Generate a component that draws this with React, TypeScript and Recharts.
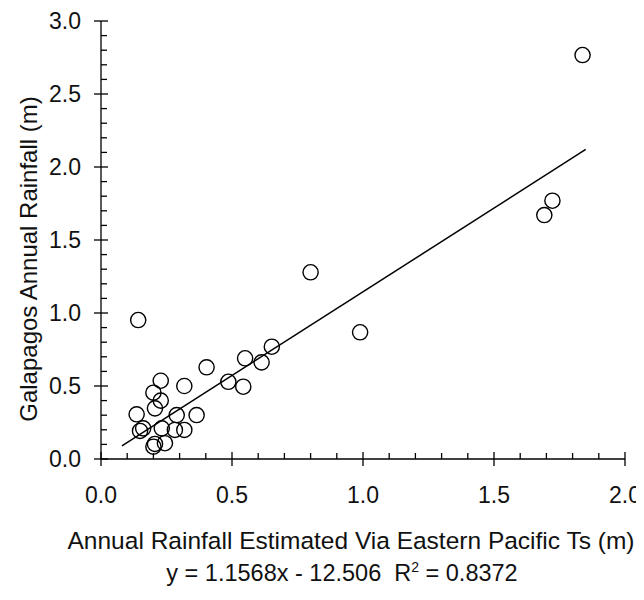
import { ScatterChart, Scatter, XAxis, YAxis, Label } from "recharts";

const FONT = '"Liberation Sans", Arial, sans-serif';

// observed (x) estimated rainfall vs. Galapagos rainfall, metres
const estRain = [
  0.142, 0.228, 0.318, 0.2, 0.228, 0.206, 0.136, 0.289, 0.365, 0.161, 0.149,
  0.232, 0.282, 0.318, 0.206, 0.244, 0.2, 0.403, 0.486, 0.543, 0.55, 0.613,
  0.652, 0.8, 0.989, 1.692, 1.723, 1.838,
];
const galRain = [
  0.952, 0.536, 0.5, 0.454, 0.4, 0.347, 0.306, 0.301, 0.301, 0.21, 0.192,
  0.21, 0.199, 0.199, 0.103, 0.108, 0.084, 0.628, 0.529, 0.495, 0.69, 0.662,
  0.769, 1.279, 0.868, 1.671, 1.769, 2.767,
];

// regression line ends as drawn
const fitX = [0.08, 1.85];
const fitY = [0.09, 2.12];

const xTicks = [
  0, 0.1, 0.2, 0.3, 0.4, 0.5, 0.6, 0.7, 0.8, 0.9, 1.0, 1.1, 1.2, 1.3, 1.4, 1.5,
  1.6, 1.7, 1.8, 1.9, 2.0,
];
const yTicks = [
  0, 0.1, 0.2, 0.3, 0.4, 0.5, 0.6, 0.7, 0.8, 0.9, 1.0, 1.1, 1.2, 1.3, 1.4, 1.5,
  1.6, 1.7, 1.8, 1.9, 2.0, 2.1, 2.2, 2.3, 2.4, 2.5, 2.6, 2.7, 2.8, 2.9, 3.0,
];

const points = estRain.map((x, i) => ({ x, y: galRain[i] }));
const fit = fitX.map((x, i) => ({ x, y: fitY[i] }));

const isMajor = (v: number) => Math.abs(v * 2 - Math.round(v * 2)) < 1e-6;

// ticks: major ones cross the axis, minor ones point inwards
const XTick = (props: any) => {
  const { x, y, payload } = props;
  const major = isMajor(payload.value);
  return (
    <g>
      <line x1={x} x2={x} y1={major ? y - 7 : y - 6} y2={major ? y + 7 : y} stroke="#000" strokeWidth={1.3} />
      {major && (
        <text x={x} y={y + 44} textAnchor="middle" fontFamily={FONT} fontSize={23} fill="#111">
          {payload.value.toFixed(1)}
        </text>
      )}
    </g>
  );
};

const YTick = (props: any) => {
  const { x, y, payload } = props;
  const major = isMajor(payload.value);
  return (
    <g>
      <line x1={major ? x - 7 : x} x2={major ? x + 7 : x + 6} y1={y} y2={y} stroke="#000" strokeWidth={1.3} />
      {major && (
        <text x={x - 20} y={y + 8.2} textAnchor="end" fontFamily={FONT} fontSize={23} fill="#111">
          {payload.value.toFixed(1)}
        </text>
      )}
    </g>
  );
};

const Ring = (props: any) => {
  const { cx, cy } = props;
  return <circle cx={cx} cy={cy} r={7.6} fill="none" stroke="#000" strokeWidth={1.4} />;
};

const NoDot = () => <g />;

const xTitle = (props: any) => {
  const { viewBox } = props;
  const mid = viewBox.x + viewBox.width / 2;
  return (
    <g fontFamily={FONT} fill="#111">
      <text x={mid - 12} y={viewBox.y + 90} textAnchor="middle" fontSize={24.5}>
        Annual Rainfall Estimated Via Eastern Pacific Ts (m)
      </text>
      <text x={mid - 21} y={viewBox.y + 122} textAnchor="middle" fontSize={23.5}>
        y = 1.1568x - 12.506
        <tspan dx={13}>R</tspan>
        <tspan dy={-9} fontSize={14}>2</tspan>
        <tspan dy={9}> = 0.8372</tspan>
      </text>
    </g>
  );
};

const yTitle = (props: any) => {
  const { viewBox } = props;
  const cx = 20;
  const cy = viewBox.y + viewBox.height / 2 + 19;
  return (
    <text
      x={cx}
      y={cy}
      transform={`rotate(-90 ${cx} ${cy})`}
      textAnchor="middle"
      dominantBaseline="central"
      fontFamily={FONT}
      fontSize={24}
      fill="#111"
    >
      Galapagos Annual Rainfall (m)
    </text>
  );
};

export default function App() {
  return (
    <div style={{ width: 636, height: 592, background: "#fff" }}>
      <ScatterChart width={636} height={592} margin={{ top: 13, right: 19, bottom: 0, left: 0 }}>
        <XAxis
          type="number"
          dataKey="x"
          domain={[0, 2]}
          ticks={xTicks}
          interval={0}
          tickSize={0}
          tickMargin={0}
          tickLine={false}
          tick={<XTick />}
          axisLine={{ stroke: "#000", strokeWidth: 1.3 }}
          height={141}
        >
          <Label content={xTitle} />
        </XAxis>
        <YAxis
          type="number"
          dataKey="y"
          domain={[0, 3]}
          ticks={yTicks}
          interval={0}
          tickSize={0}
          tickMargin={0}
          tickLine={false}
          tick={<YTick />}
          axisLine={{ stroke: "#000", strokeWidth: 1.3 }}
          width={93}
        >
          <Label content={yTitle} />
        </YAxis>
        <Scatter
          data={fit}
          line={{ stroke: "#000", strokeWidth: 1.5 }}
          shape={<NoDot />}
          legendType="none"
          isAnimationActive={false}
        />
        <Scatter data={points} shape={<Ring />} isAnimationActive={false} />
      </ScatterChart>
    </div>
  );
}
